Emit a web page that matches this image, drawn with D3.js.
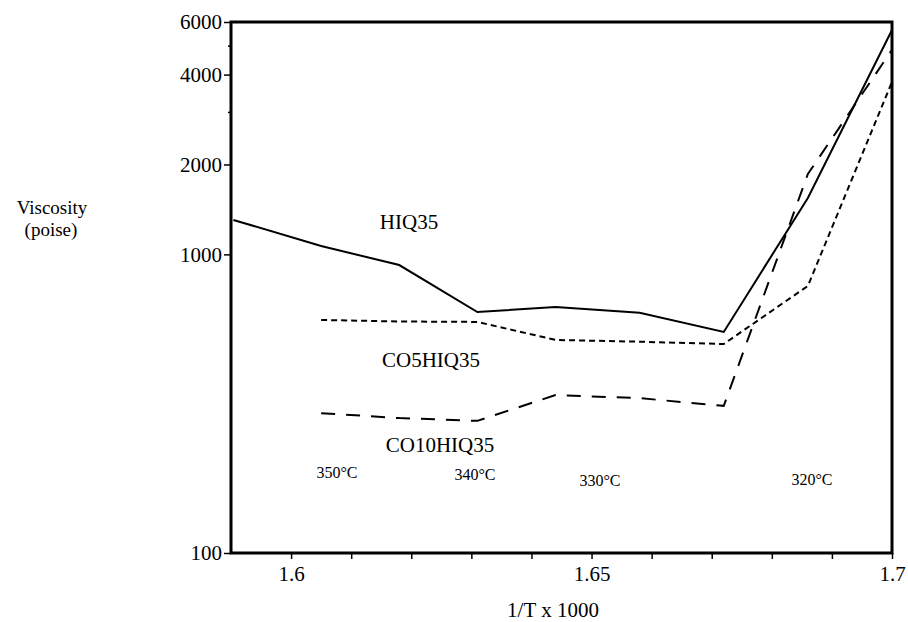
<!DOCTYPE html>
<html>
<head>
<meta charset="utf-8">
<script src="https://cdn.jsdelivr.net/npm/d3@7"></script>
<style>
body { margin: 0; background: #fff; }
text { font-family: "Liberation Serif", "Times New Roman", serif; fill: #000; }
</style>
</head>
<body>
<svg id="chart" width="908" height="622"></svg>
<script>
// 1/T x 1000 값 (온도 355 ~ 315 C)
var xVals = [1.605, 1.618, 1.631, 1.644, 1.658, 1.672, 1.686, 1.700];
var hiqX = [1.5904].concat(xVals);
var hiq35 = [1304, 1067, 921, 641, 667, 637, 550, 1545, 5643];
var co5hiq35 = [603, 596, 594, 517, 510, 501, 784, 3778];
var co10hiq35 = [294, 283, 277, 338, 330, 311, 1858, 4840];

var xTicks = [1.60, 1.61, 1.62, 1.63, 1.64, 1.65, 1.66, 1.67, 1.68, 1.69, 1.70];
var xLabeled = ["1.6", "1.65", "1.7"];
var yTicks = [100, 1000, 2000, 3000, 4000, 5000, 6000];
var yLabeled = [100, 1000, 2000, 4000, 6000];

var tempLabels = ["350", "340", "330", "320"];
var tempX = [337, 475, 600, 812];
var tempY = [478, 480, 486, 485];

var plotL = 231, plotR = 892, plotT = 22, plotB = 553;

var svg = d3.select("#chart");
var x = d3.scaleLinear().domain([1.59, 1.7]).range([plotL, plotR]);
var y = d3.scaleLog().domain([100, 6000]).range([plotB, plotT]);

// 축
var xAxis = svg.append("g").attr("transform", "translate(0," + plotB + ")")
	.call(d3.axisBottom(x).tickValues(xTicks).tickSize(6).tickPadding(7)
		.tickFormat(function(d) {
			var s = d3.format(".3~f")(d);
			return xLabeled.indexOf(s) > -1 ? s : "";
		}));
xAxis.select(".domain").remove();
xAxis.selectAll("line").attr("stroke-width", 1.5);
xAxis.selectAll("text").attr("font-size", 21);

var yAxis = svg.append("g").attr("transform", "translate(" + plotL + ",0)")
	.call(d3.axisLeft(y).tickValues(yTicks).tickSize(7).tickPadding(2)
		.tickFormat(function(d) { return yLabeled.indexOf(d) > -1 ? d : ""; }));
yAxis.select(".domain").remove();
yAxis.selectAll("line").attr("stroke-width", 1.5)
	.attr("x2", function(d) { return yLabeled.indexOf(d) > -1 ? -7 : -3; });
yAxis.selectAll("text").attr("font-size", 21);

// 테두리
svg.append("rect").attr("x", plotL).attr("y", plotT)
	.attr("width", plotR - plotL).attr("height", plotB - plotT)
	.attr("fill", "none").attr("stroke", "#000").attr("stroke-width", 3);

// 선
var line = d3.line().x(function(d) { return x(d[0]); }).y(function(d) { return y(d[1]); });
var series = [
	{ xs: hiqX, ys: hiq35, dash: null },
	{ xs: xVals, ys: co5hiq35, dash: "6,4" },
	{ xs: xVals, ys: co10hiq35, dash: "14,11" }
];
svg.selectAll("path.series").data(series).enter().append("path")
	.attr("class", "series")
	.attr("d", function(s) { return line(d3.zip(s.xs, s.ys)); })
	.attr("fill", "none").attr("stroke", "#000").attr("stroke-width", 2)
	.attr("stroke-dasharray", function(s) { return s.dash; });

// 라벨
var names = [["HIQ35", 409, 229], ["CO5HIQ35", 431, 367], ["CO10HIQ35", 440, 452]];
svg.selectAll("text.name").data(names).enter().append("text")
	.attr("class", "name").attr("x", function(d) { return d[1]; })
	.attr("y", function(d) { return d[2]; })
	.attr("text-anchor", "middle").attr("font-size", 21)
	.text(function(d) { return d[0]; });

svg.selectAll("text.temp").data(tempLabels).enter().append("text")
	.attr("class", "temp").attr("x", function(d, i) { return tempX[i]; })
	.attr("y", function(d, i) { return tempY[i]; })
	.attr("text-anchor", "middle").attr("font-size", 16)
	.text(function(d) { return d + "\u00B0C"; });

svg.append("text").attr("x", 553).attr("y", 617).attr("text-anchor", "middle")
	.attr("font-size", 21).text("1/T x 1000");
svg.append("text").attr("x", 52).attr("y", 214).attr("text-anchor", "middle")
	.attr("font-size", 19).text("Viscosity");
svg.append("text").attr("x", 51).attr("y", 236).attr("text-anchor", "middle")
	.attr("font-size", 19).text("(poise)");
</script>
</body>
</html>
